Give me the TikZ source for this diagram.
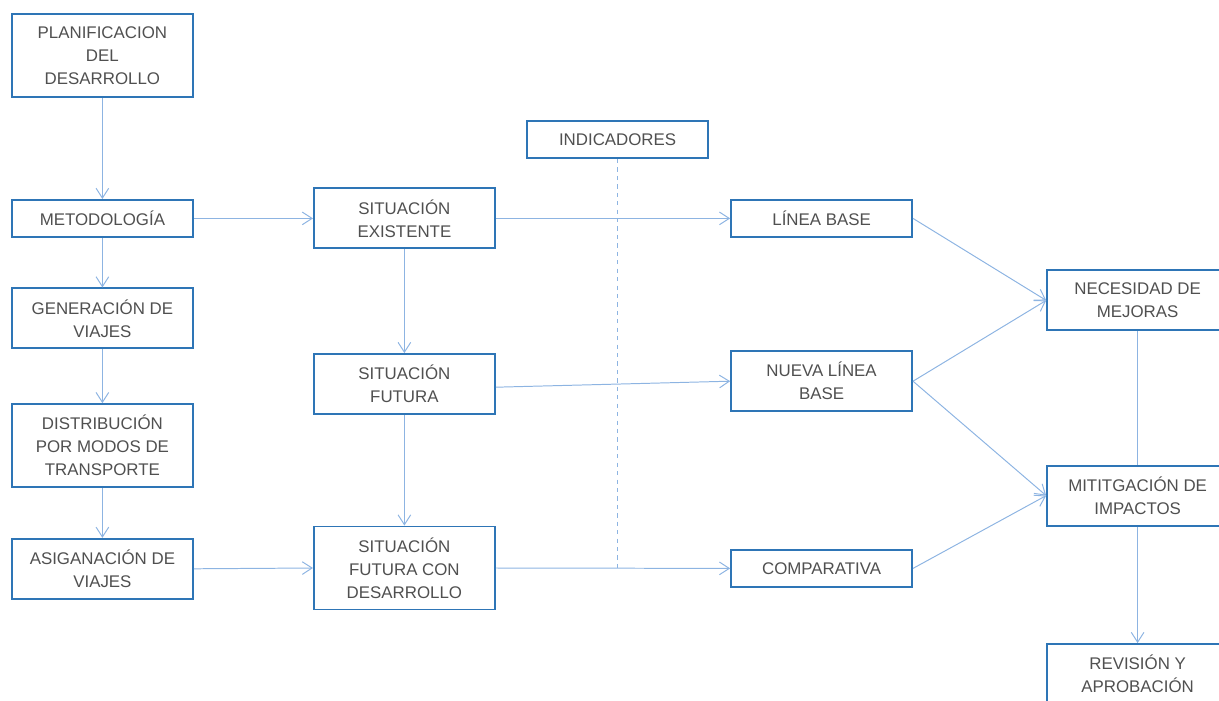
\documentclass[tikz,border=0pt]{standalone}
\usepackage{fontspec}
\setmainfont{Liberation Sans}
\usetikzlibrary{arrows.meta, positioning, calc}
\definecolor{box_blue}{RGB}{46, 117, 182}
\definecolor{link_blue}{RGB}{141, 180, 226}
\definecolor{text_grey}{RGB}{80, 80, 80}

\begin{document}
\begin{tikzpicture}[
    stage/.style={
        rectangle,
        draw=box_blue,
        fill=white,
        line width=1.3pt,
        minimum width=4.525cm,
        minimum height=#1,
        text=text_grey,
        align=center,
        font=\fontsize{12}{16.4}\selectfont
    },
    stage/.default=0.925cm,
    arrow/.style={
        -{Straight Barb[length=7pt, width=9pt]},
        line width=0.7pt,
        link_blue
    },
    link/.style={
        line width=0.7pt,
        link_blue
    },
    dash_link/.style={
        line width=0.7pt,
        dashed,
        link_blue
    }
]
\useasboundingbox (0,0) rectangle (30.475,-17.525);

% Left column - model steps
\node[stage=2.075cm] (plan) at (2.56,-1.39) {PLANIFICACION\\DEL\\DESARROLLO};
\node[stage] (metod) at (2.56,-5.46) {METODOLOGÍA};
\node[stage=1.5cm] (gener) at (2.56,-7.96) {GENERACIÓN DE\\VIAJES};
\node[stage=2.075cm] (distr) at (2.56,-11.14) {DISTRIBUCIÓN\\POR MODOS DE\\TRANSPORTE};
\node[stage=1.5cm] (asig) at (2.56,-14.22) {ASIGANACIÓN DE\\VIAJES};

% Middle column - scenarios
\node[stage=1.5cm] (sitex) at (10.11,-5.46) {SITUACIÓN\\EXISTENTE};
\node[stage=1.5cm] (sitfut) at (10.11,-9.6) {SITUACIÓN\\FUTURA};
\node[stage=2.075cm] (sitdes) at (10.11,-14.2) {SITUACIÓN\\FUTURA CON\\DESARROLLO};

% Indicators
\node[stage] (indic) at (15.44,-3.49) {INDICADORES};
\node[stage] (lbase) at (20.54,-5.46) {LÍNEA BASE};
\node[stage=1.5cm] (nlbase) at (20.54,-9.53) {NUEVA LÍNEA\\BASE};
\node[stage] (comp) at (20.54,-14.21) {COMPARATIVA};

% Right column - results
\node[stage=1.5cm] (neces) at (28.44,-7.51) {NECESIDAD DE\\MEJORAS};
\node[stage=1.5cm] (mitig) at (28.44,-12.39) {MITITGACIÓN DE\\IMPACTOS};
\node[stage=1.5cm] (revis) at (28.44,-16.85) {REVISIÓN Y\\APROBACIÓN};

% Left column arrows
\draw[arrow] (plan.south) -- (metod.north);
\draw[arrow] (metod.south) -- (gener.north);
\draw[arrow] (gener.south) -- (distr.north);
\draw[arrow] (distr.south) -- (asig.north);
\draw[arrow] (metod.east) -- (sitex.west);
\draw[arrow] (asig.east) -- (sitdes.west);

% Middle column arrows
\draw[arrow] (sitex.south) -- (sitfut.north);
\draw[arrow] (sitfut.south) -- (sitdes.north);
\draw[arrow] (sitex.east) -- (lbase.west);
\draw[arrow] ([yshift=-0.08cm]sitfut.east) -- (nlbase.west);
\draw[arrow] (sitdes.east) -- (comp.west);

% Indicators divider
\coordinate (dash_end) at (indic.south |- comp.west);
\draw[dash_link] (indic.south) -- (dash_end);

% Right side arrows
\draw[arrow] (lbase.east) -- (neces.west);
\draw[arrow] (nlbase.east) -- (neces.west);
\draw[arrow] (nlbase.east) -- (mitig.west);
\draw[arrow] (comp.east) -- (mitig.west);
\draw[link] (neces.south) -- (mitig.north);
\draw[arrow] (mitig.south) -- (revis.north);

\end{tikzpicture}
\end{document}
